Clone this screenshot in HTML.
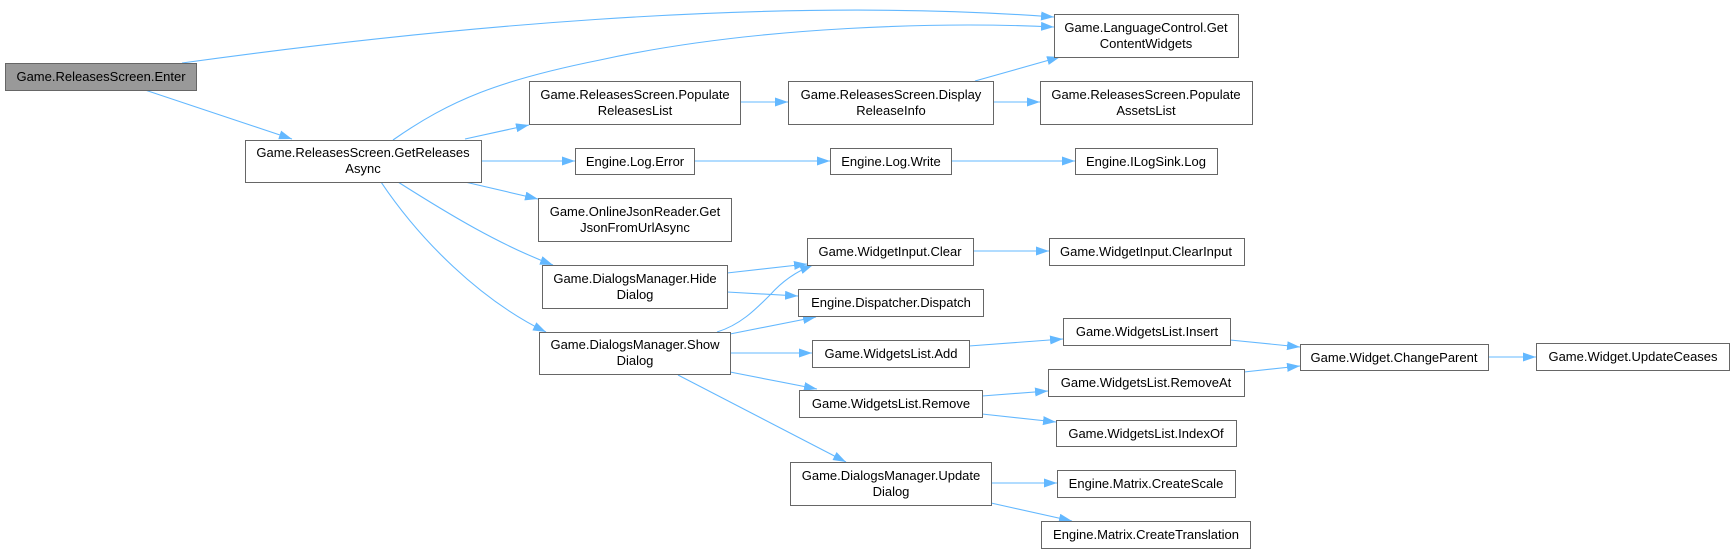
<!DOCTYPE html>
<html><head><meta charset="utf-8"><style>
html,body{margin:0;padding:0;background:#fff;}
svg{display:block;}
text{font-family:"Liberation Sans",Arial,sans-serif;font-size:13px;fill:#000;}
</style></head><body>
<svg width="1734" height="553" viewBox="0 0 1734 553" xmlns="http://www.w3.org/2000/svg">
<defs>
<marker id="a" markerWidth="14" markerHeight="10" refX="13" refY="4.5" orient="auto" markerUnits="userSpaceOnUse">
<path d="M0,0 L13,4.5 L0,9 z" fill="#63b8ff"/>
</marker>
</defs>
<g fill="none" stroke="#63b8ff" stroke-width="1.1" marker-end="url(#a)">
<path d="M182,63 C420,30 760,-5 1054,17"/>
<path d="M393,140 C450,100 500,80 600,60 C760,25 950,22 1054,27"/>
<path d="M145,90 L292,139"/>
<path d="M465,139 L529,125"/>
<path d="M481,161 L575,161"/>
<path d="M465,182 L538,199"/>
<path d="M398,182 C450,215 500,245 553,265"/>
<path d="M381,182 C420,240 480,300 546,332"/>
<path d="M740,102 L788,102"/>
<path d="M975,81 L1060,57"/>
<path d="M993,102 L1040,102"/>
<path d="M694,161 L830,161"/>
<path d="M951,161 L1075,161"/>
<path d="M727,273 L807,264"/>
<path d="M727,292 L798,296"/>
<path d="M717,332 C740,325 755,310 770,295 C785,278 800,270 813,265"/>
<path d="M730,334 L816,317"/>
<path d="M730,353 L812,353"/>
<path d="M730,372 L817,389"/>
<path d="M678,375 L846,462"/>
<path d="M973,251 L1049,251"/>
<path d="M969,346 L1063,339"/>
<path d="M982,396 L1048,391"/>
<path d="M982,414 L1056,422"/>
<path d="M1230,340 L1300,347"/>
<path d="M1244,372 L1300,366"/>
<path d="M1488,357 L1536,357"/>
<path d="M991,483 L1057,483"/>
<path d="M991,503 L1072,521"/>
</g>
<g stroke="#666" stroke-width="1" fill="#fff">
<rect x="5.5" y="63.5" width="191" height="27" fill="#999"/>
<rect x="245.5" y="140.5" width="236" height="42"/>
<rect x="529.5" y="81.5" width="211" height="43"/>
<rect x="788.5" y="81.5" width="205" height="43"/>
<rect x="575.5" y="148.5" width="119" height="26"/>
<rect x="830.5" y="148.5" width="121" height="26"/>
<rect x="538.5" y="198.5" width="193" height="43"/>
<rect x="807.5" y="238.5" width="166" height="27"/>
<rect x="1054.5" y="14.5" width="184" height="43"/>
<rect x="1040.5" y="81.5" width="212" height="43"/>
<rect x="1075.5" y="148.5" width="142" height="26"/>
<rect x="1049.5" y="238.5" width="195" height="27"/>
<rect x="542.5" y="265.5" width="185" height="43"/>
<rect x="539.5" y="332.5" width="191" height="42"/>
<rect x="798.5" y="289.5" width="185" height="27"/>
<rect x="812.5" y="340.5" width="157" height="27"/>
<rect x="799.5" y="390.5" width="183" height="27"/>
<rect x="790.5" y="462.5" width="201" height="43"/>
<rect x="1063.5" y="318.5" width="167" height="27"/>
<rect x="1048.5" y="369.5" width="196" height="27"/>
<rect x="1056.5" y="420.5" width="180" height="26"/>
<rect x="1057.5" y="470.5" width="178" height="27"/>
<rect x="1041.5" y="521.5" width="209" height="27"/>
<rect x="1300.5" y="344.5" width="188" height="26"/>
<rect x="1536.5" y="343.5" width="193" height="27"/>
</g>
<g text-anchor="middle">
<text x="101" y="81">Game.ReleasesScreen.Enter</text>
<text x="363" y="157">Game.ReleasesScreen.GetReleases</text>
<text x="363" y="173">Async</text>
<text x="635" y="99">Game.ReleasesScreen.Populate</text>
<text x="635" y="115">ReleasesList</text>
<text x="891" y="99">Game.ReleasesScreen.Display</text>
<text x="891" y="115">ReleaseInfo</text>
<text x="635" y="166">Engine.Log.Error</text>
<text x="891" y="166">Engine.Log.Write</text>
<text x="635" y="216">Game.OnlineJsonReader.Get</text>
<text x="635" y="232">JsonFromUrlAsync</text>
<text x="890" y="256">Game.WidgetInput.Clear</text>
<text x="1146" y="32">Game.LanguageControl.Get</text>
<text x="1146" y="48">ContentWidgets</text>
<text x="1146" y="99">Game.ReleasesScreen.Populate</text>
<text x="1146" y="115">AssetsList</text>
<text x="1146" y="166">Engine.ILogSink.Log</text>
<text x="1146" y="256">Game.WidgetInput.ClearInput</text>
<text x="635" y="283">Game.DialogsManager.Hide</text>
<text x="635" y="299">Dialog</text>
<text x="635" y="349">Game.DialogsManager.Show</text>
<text x="635" y="365">Dialog</text>
<text x="891" y="307">Engine.Dispatcher.Dispatch</text>
<text x="891" y="358">Game.WidgetsList.Add</text>
<text x="891" y="408">Game.WidgetsList.Remove</text>
<text x="891" y="480">Game.DialogsManager.Update</text>
<text x="891" y="496">Dialog</text>
<text x="1147" y="336">Game.WidgetsList.Insert</text>
<text x="1146" y="387">Game.WidgetsList.RemoveAt</text>
<text x="1146" y="438">Game.WidgetsList.IndexOf</text>
<text x="1146" y="488">Engine.Matrix.CreateScale</text>
<text x="1146" y="539">Engine.Matrix.CreateTranslation</text>
<text x="1394" y="362">Game.Widget.ChangeParent</text>
<text x="1633" y="361">Game.Widget.UpdateCeases</text>
</g>
</svg>
</body></html>
